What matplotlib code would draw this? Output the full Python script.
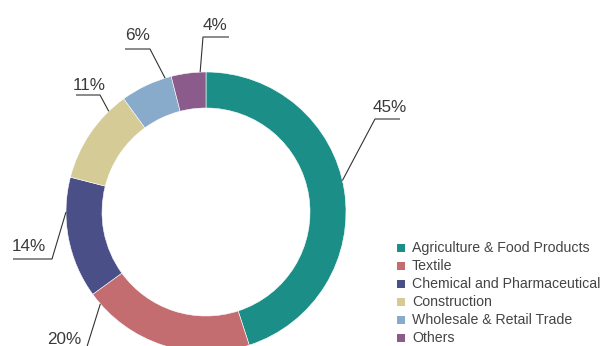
import numpy as np
import matplotlib
matplotlib.use('Agg')
import matplotlib.pyplot as plt
from matplotlib.patches import Rectangle

plt.rcParams['font.family'] = ['Liberation Sans', 'DejaVu Sans']

# 行业占比数据（顺时针，从12点钟方向开始）
sectors = ['Agriculture & Food Products', 'Textile', 'Chemical and Pharmaceutical',
           'Construction', 'Wholesale & Retail Trade', 'Others']
shares = [45, 20, 14, 11, 6, 4]
colors = ['#1a8e87', '#c46d70', '#4a4f88', '#d4cb97', '#89abcb', '#8b5b8b']

W, H = 601, 346

# 引线布局（像素坐标，y 从顶部量起）
anchor_deg = [13, -139, 180, 134, 107, 92.4]      # 引线在外环上的起点角度
elbows = [(375, 119), (85, 353), (52, 259), (100, 95), (150, 49), (203, 37)]
line_ends = [400, 50, 13, 76, 125, 229]
label_xy = [(390, 112), (64, 343.5), (29, 251), (89, 89.5), (138, 40), (215, 29.5)]

cx, cy, R, ring = 206, 212, 140, 36


def fy(py):
    # 像素y转为数据坐标
    return H - py


fig = plt.figure(figsize=(W / 100, H / 100), dpi=100)
ax = fig.add_axes([0, 0, 1, 1])
ax.set_xlim(0, W)
ax.set_ylim(0, H)
ax.axis('off')

ax.pie(shares, colors=colors, startangle=90, counterclock=False,
       center=(cx, fy(cy)), radius=R,
       wedgeprops=dict(width=ring, edgecolor='white', linewidth=0.4))
ax.set_xlim(0, W)
ax.set_ylim(0, H)

# 百分比标签与引线
for share, ang, (ex, ey), x_end, (tx, ty) in zip(shares, anchor_deg, elbows, line_ends, label_xy):
    a = np.deg2rad(ang)
    sx = cx + R * np.cos(a)
    sy = fy(cy) + R * np.sin(a)
    ax.plot([sx, ex, x_end], [sy, fy(ey), fy(ey)], color='#333333', lw=0.8,
            solid_capstyle='butt', clip_on=False)
    ax.text(tx, fy(ty), f'{share}%', ha='center', va='baseline',
            fontsize=12.3, color='#3a3a3a')

# 图例
row_y = [248, 266, 283.5, 301.5, 319.5, 337.5]
for name, c, y in zip(sectors, colors, row_y):
    ax.add_patch(Rectangle((397, fy(y) - 4), 8, 8, facecolor=c, edgecolor='none'))
    ax.text(412, fy(y), name, ha='left', va='center', fontsize=10.2, color='#444444')

fig.savefig('out.png', dpi=100)
